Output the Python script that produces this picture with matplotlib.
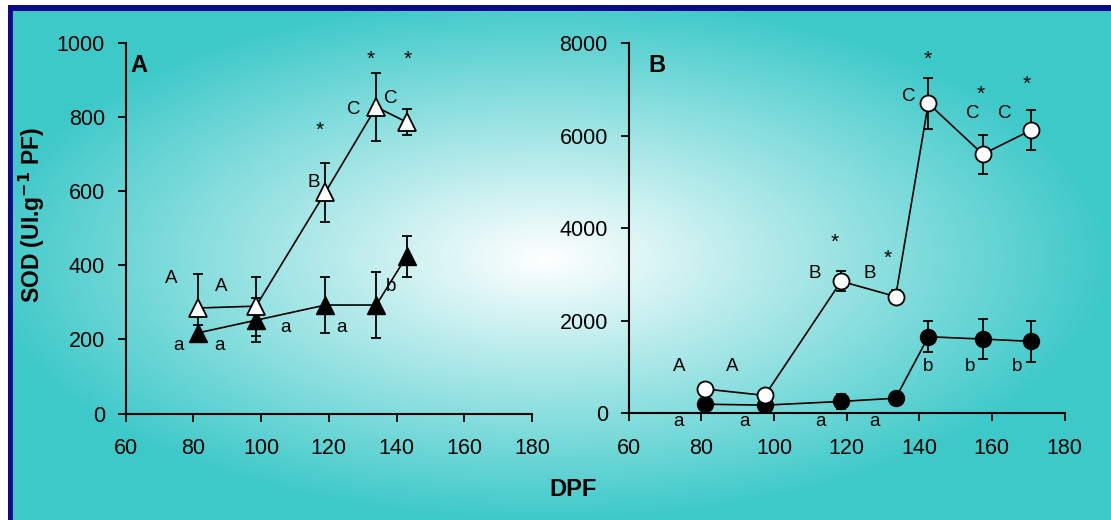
import matplotlib.pyplot as plt
import numpy as np
from matplotlib.colors import LinearSegmentedColormap

plt.rcParams['font.family'] = ['Liberation Sans', 'DejaVu Sans']

# panel A - triangles
a_x = [81.5, 98.5, 119, 134, 143]
a_open = [285, 290, 598, 828, 787]
a_open_err = [92, 80, 80, 92, 35]
a_fill = [218, 252, 293, 293, 425]
a_fill_err = [20, 60, 75, 90, 55]

# panel B - circles
b_x = [81, 97.5, 118.5, 133.5, 142.5, 157.5, 170.8]
b_open = [520, 380, 2850, 2520, 6700, 5600, 6120]
b_open_err = [120, 100, 220, 150, 550, 420, 430]
b_fill = [190, 170, 250, 320, 1650, 1600, 1550]
b_fill_err = [60, 80, 160, 80, 330, 440, 440]

# letters (x, y, text)
a_letters = [(73.5, 366, 'A'), (88.1, 344, 'A'), (75.6, 185, 'a'), (87.8, 185, 'a'),
             (107.3, 231, 'a'), (123.6, 231, 'a'), (138.4, 342, 'b'), (115.5, 623, 'B'),
             (127.3, 820, 'C'), (138.4, 852, 'C')]
a_stars = [(117.3, 765), (132.4, 957), (143.4, 957)]
b_letters = [(74.0, 1002, 'A'), (88.4, 1002, 'A'), (111.2, 3008, 'B'), (126.5, 3008, 'B'),
             (73.8, -188, 'a'), (91.8, -188, 'a'), (112.7, -188, 'a'), (127.8, -188, 'a'),
             (142.5, 1002, 'b'), (154.1, 1002, 'b'), (166.9, 1002, 'b'),
             (137.1, 6845, 'C'), (154.6, 6485, 'C'), (163.6, 6485, 'C')]
b_stars = [(142.3, 7660), (157.0, 6900), (169.6, 7120), (116.6, 3700), (131.4, 3340)]

W, H = 1111, 520
fig = plt.figure(figsize=(W / 100, H / 100), dpi=100)

# background: radial gradient white -> teal, with navy frame on left/top
bg = fig.add_axes([0, 0, 1, 1], zorder=-10)
yy, xx = np.mgrid[0:H, 0:W]
r = np.sqrt(((xx - 545) / 565.0) ** 2 + ((yy - 258) / 262.0) ** 2)
r = np.clip(r, 0, 1)
cmap = LinearSegmentedColormap.from_list('bg', ['#ffffff', '#3ec9c9'])
img = cmap(r)
img[:5, :, :3] = 1.0
img[:, :8, :3] = 1.0
img[5:11, 8:, :3] = np.array([10, 10, 140]) / 255
img[5:, 8:13, :3] = np.array([10, 10, 140]) / 255
bg.imshow(img, aspect='auto', extent=[0, W, H, 0])
bg.set_axis_off()


def style(ax, ymax, ystep):
    ax.set_facecolor('none')
    ax.spines['top'].set_visible(False)
    ax.spines['right'].set_visible(False)
    ax.spines['left'].set_linewidth(1.5)
    ax.spines['bottom'].set_linewidth(1.5)
    ax.set_xlim(60, 180)
    ax.set_ylim(0, ymax)
    ax.set_xticks(range(60, 181, 20))
    ax.set_yticks(range(0, ymax + 1, ystep))
    ax.tick_params(direction='out', length=6, width=1.3, labelsize=15.5)
    ax.tick_params(axis='x', pad=12)
    ax.tick_params(axis='y', pad=9)


axA = fig.add_axes([125.7 / W, 1 - 413.5 / H, 406.3 / W, 370.2 / H])
style(axA, 1000, 200)
axA.errorbar(a_x, a_fill, yerr=a_fill_err, color='black', lw=1.2, capsize=3.5, capthick=1.3,
             elinewidth=1.3, marker='^', ms=12.5, mfc='black', mec='black', zorder=3)
axA.errorbar(a_x, a_open, yerr=a_open_err, color='black', lw=1.2, capsize=3.5, capthick=1.3,
             elinewidth=1.3, marker='^', ms=12.5, mfc='white', mec='black', mew=1.3, zorder=4)
for x, y, t in a_letters:
    axA.text(x, y, t, fontsize=13.5, ha='center', va='center')
for x, y in a_stars:
    axA.text(x, y, '*', fontsize=15, ha='center', va='center')
axA.text(63.9, 941, 'A', fontsize=17, fontweight='bold', ha='center', va='center')

axB = fig.add_axes([628.7 / W, 1 - 413 / H, 435.8 / W, 369.7 / H])
style(axB, 8000, 2000)
axB.errorbar(b_x, b_fill, yerr=b_fill_err, color='black', lw=1.2, capsize=3.5, capthick=1.3,
             elinewidth=1.3, marker='o', ms=11.5, mfc='black', mec='black', zorder=3)
axB.errorbar(b_x, b_open, yerr=b_open_err, color='black', lw=1.2, capsize=3.5, capthick=1.3,
             elinewidth=1.3, marker='o', ms=11.5, mfc='white', mec='black', mew=1.3, zorder=4)
for x, y, t in b_letters:
    axB.text(x, y, t, fontsize=13.5, ha='center', va='center', clip_on=False)
for x, y in b_stars:
    axB.text(x, y, '*', fontsize=15, ha='center', va='center')
axB.text(67.9, 7509, 'B', fontsize=17, fontweight='bold', ha='center', va='center')

fig.text(0.029, 0.587, r'SOD (UI.g$^{\mathbf{-1}}$ PF)', rotation=90, fontsize=16.5,
         fontweight='bold', ha='center', va='center')
fig.text(0.516, 0.058, 'DPF', fontsize=17, fontweight='bold', ha='center', va='center')

fig.savefig('out.png', dpi=100)
